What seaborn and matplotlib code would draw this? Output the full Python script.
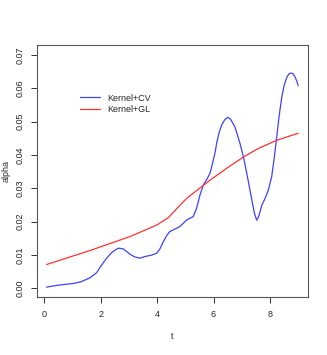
import numpy as np
import pandas as pd
import matplotlib
matplotlib.use("Agg")
import matplotlib.pyplot as plt
import seaborn as sns

# Kernel+CV estimate (blue)
t_cv = [0.08, 0.5, 1.03, 1.3, 1.62, 1.85, 2.03, 2.2, 2.4, 2.62, 2.8, 3.04, 3.2, 3.39, 3.57,
        3.8, 3.99, 4.1, 4.2, 4.34, 4.45, 4.57, 4.81, 5.05, 5.28, 5.4, 5.52, 5.64, 5.75, 5.87,
        5.95, 6.05, 6.11, 6.2, 6.29, 6.4, 6.5, 6.6, 6.76, 6.94, 7.06, 7.18, 7.36, 7.45, 7.53,
        7.6, 7.71, 7.82, 7.94, 8.06, 8.15, 8.24, 8.33, 8.42, 8.5, 8.6, 8.68, 8.75, 8.82, 8.89,
        8.95, 9.0]
a_cv = [0.0003, 0.0009, 0.0014, 0.0019, 0.0031, 0.0046, 0.0069, 0.0089, 0.0108, 0.0120,
        0.0118, 0.0102, 0.0094, 0.0090, 0.0095, 0.0099, 0.0105, 0.0118, 0.0136, 0.0158,
        0.0170, 0.0175, 0.0185, 0.0205, 0.0215, 0.0240, 0.0280, 0.0310, 0.0325, 0.0344,
        0.0370, 0.0405, 0.0435, 0.0468, 0.0490, 0.0506, 0.0513, 0.0508, 0.0484, 0.0434,
        0.0394, 0.0344, 0.0264, 0.0225, 0.0204, 0.0215, 0.0249, 0.0268, 0.0294, 0.0334,
        0.0390, 0.0454, 0.0520, 0.0574, 0.0608, 0.0634, 0.0644, 0.0646, 0.0644, 0.0634,
        0.0622, 0.0608]

# Kernel+GL estimate (red)
t_gl = [0.08, 1.62, 3.04, 3.51, 4.0, 4.4, 4.81, 5.05, 5.87, 6.5, 7.06, 7.6, 8.24, 8.7, 9.0]
a_gl = [0.0071, 0.0113, 0.0155, 0.0172, 0.0190, 0.0212, 0.0249, 0.0270, 0.0324, 0.0362,
        0.0394, 0.0420, 0.0444, 0.0457, 0.0465]

df = pd.concat([
    pd.DataFrame({"t": t_cv, "alpha": a_cv, "method": "Kernel+CV"}),
    pd.DataFrame({"t": t_gl, "alpha": a_gl, "method": "Kernel+GL"}),
], ignore_index=True)

sns.set_style("ticks")
plt.rcParams["font.family"] = ["Liberation Sans", "DejaVu Sans"]

fig = plt.figure(figsize=(3.27, 3.55), dpi=100)
ax = fig.add_axes([0.113, 0.163, 0.829, 0.71])

sns.lineplot(data=df, x="t", y="alpha", hue="method",
             palette={"Kernel+CV": "#4040ff", "Kernel+GL": "#ff3030"},
             linewidth=0.9, ax=ax, sort=True, estimator=None)

ax.set_xlim(-0.26, 9.35)
ax.set_ylim(-0.0027, 0.073)
ax.set_xticks([0, 2, 4, 6, 8])
ax.set_yticks(np.arange(0, 0.071, 0.01))
ax.set_yticklabels(["%.2f" % v for v in np.arange(0, 0.071, 0.01)],
                   rotation=90, va="center")
ax.tick_params(labelsize=6.5, length=4, width=0.7, color="#333333", pad=5)
for s in ax.spines.values():
    s.set_linewidth(0.8)
    s.set_color("#555555")
ax.set_xlabel("t", fontsize=6.5)
ax.set_ylabel("alpha", fontsize=6.5)
ax.xaxis.set_label_coords(0.5, -0.14)
ax.yaxis.set_label_coords(-0.097, 0.5)

ax.legend(title=None, frameon=False, fontsize=6.5, loc="upper left",
          bbox_to_anchor=(0.13, 0.84), handlelength=2.2, labelspacing=0.3)

fig.savefig("out.png", dpi=100)
